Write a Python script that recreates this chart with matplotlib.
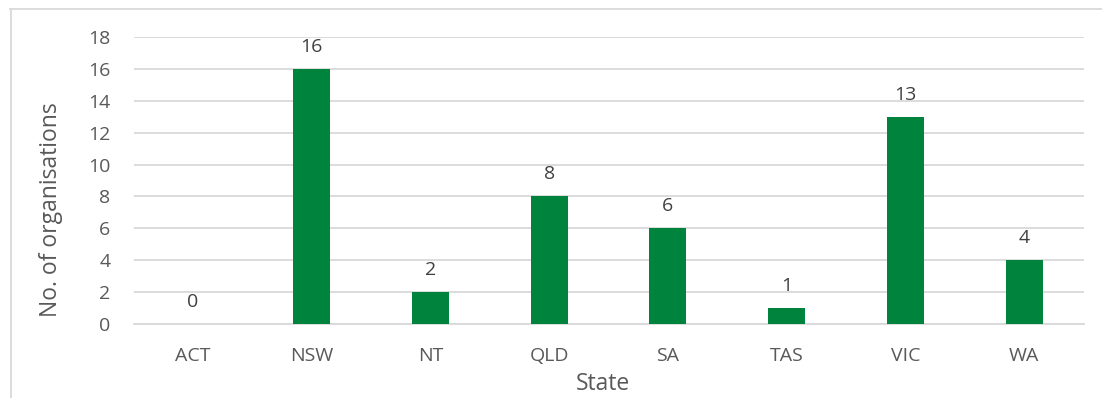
import matplotlib
matplotlib.use("Agg")
import matplotlib.pyplot as plt
from matplotlib.lines import Line2D

states = ["ACT", "NSW", "NT", "QLD", "SA", "TAS", "VIC", "WA"]
organisations = [0, 16, 2, 8, 6, 1, 13, 4]
y_ticks = [0, 2, 4, 6, 8, 10, 12, 14, 16, 18]

W, H = 1102, 398
plt.rcParams["font.family"] = ["Open Sans", "DejaVu Sans"]
text_color = "#595959"
grid_color = "#D9D9D9"
bar_color = "#00843D"

fig = plt.figure(figsize=(W / 100, H / 100), dpi=100)

def fx(px):
    return px / W

def fy(py):
    return 1 - py / H

# chart frame
fig.add_artist(Line2D([fx(10), 1.0], [fy(8.5), fy(8.5)], color=grid_color, lw=1.3))
fig.add_artist(Line2D([fx(10.5), fx(10.5)], [fy(8.5), 0.0], color=grid_color, lw=1.3))

ax = fig.add_axes([fx(133.5), fy(324), fx(1083.5) - fx(133.5), fy(37) - fy(324)])
x = list(range(len(states)))
bars = ax.bar(x, organisations, width=0.31, color=bar_color, zorder=3)
for xi, v in zip(x, organisations):
    ax.annotate(str(v), (xi, v), xytext=(0, 9.5), textcoords="offset points",
                ha="center", va="bottom", fontsize=14, color="#404040")

ax.set_xlim(-0.5, len(states) - 0.5)
ax.set_ylim(0, 18)
ax.set_yticks(y_ticks)
ax.set_xticks(x)
ax.set_xticklabels(states)
ax.yaxis.grid(True, color=grid_color, lw=1.3, zorder=0)
ax.set_axisbelow(True)
for s in ["top", "right", "left"]:
    ax.spines[s].set_visible(False)
ax.spines["bottom"].set_color(grid_color)
ax.spines["bottom"].set_linewidth(1.3)
ax.tick_params(axis="both", length=0, labelsize=14, labelcolor=text_color)
ax.tick_params(axis="y", pad=16.5)
ax.tick_params(axis="x", pad=16.5)

# axis titles
fig.text(fx(602.5), fy(384), "State", fontsize=16.5, color=text_color,
         ha="center", va="center")
fig.text(fx(51), fy(210), "No. of organisations", fontsize=16.5, color=text_color,
         ha="center", va="center", rotation=90)

fig.savefig("out.png", dpi=100)
